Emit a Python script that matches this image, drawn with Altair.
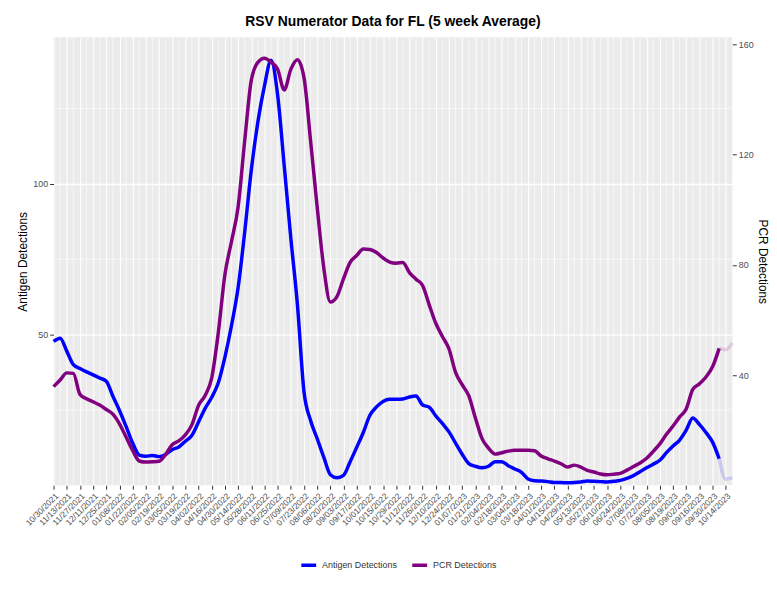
import altair as alt
import pandas as pd

# ---- data (weekly, 5-week average) ----
start_date = "2021-10-30"
series_names = ["Antigen Detections", "PCR Detections"]
series_colors = ["#0000FF", "#800080"]

antigen = [
    47.7, 48.8, 44.5, 40.0, 38.7, 37.6, 36.6, 35.6, 34.5, 29.5,
    24.8, 19.5, 14.0, 10.0, 9.6, 9.9, 9.5, 10.2, 11.8, 12.7,
    14.6, 16.6, 21.0, 25.5, 29.2, 34.0, 42.5, 53.0, 65.5, 84.0,
    104.5, 120.5, 132.5, 141.0, 129.5, 106.0, 82.0, 60.0, 31.0, 21.5,
    15.5, 9.3, 3.5, 2.5, 3.3, 7.8, 12.6, 17.5, 23.2, 26.0,
    27.8, 28.5, 28.5, 28.6, 29.3, 29.6, 26.6, 25.9, 23.0, 20.5,
    17.7, 14.0, 10.3, 7.2, 6.3, 5.8, 6.3, 7.8, 7.8, 6.5,
    5.4, 4.3, 2.1, 1.5, 1.4, 1.2, 0.9, 0.9, 0.8, 0.9,
    1.1, 1.4, 1.3, 1.2, 1.1, 1.3, 1.6, 2.3, 3.2, 4.5,
    5.8, 7.0, 8.3, 10.8, 13.0, 15.0, 18.3, 22.3, 20.2, 17.5,
    14.3, 8.8, 2.0, 2.5,
]

pcr = [
    35.8, 38.2, 40.8, 40.6, 33.0, 31.4, 30.3, 29.1, 27.5, 25.8,
    22.3, 17.5, 12.6, 8.8, 8.4, 8.5, 8.7, 11.2, 14.7, 16.1,
    18.3, 22.0, 29.0, 32.6, 39.0, 55.5, 76.5, 88.5, 101.0, 125.0,
    147.0, 153.5, 155.0, 153.6, 151.0, 143.5, 151.0, 154.5, 148.0, 125.0,
    101.0, 79.0, 66.5, 68.5, 75.0, 80.9, 83.4, 85.8, 85.6, 84.5,
    82.5, 81.0, 80.6, 80.9, 77.2, 74.8, 72.5, 65.5, 58.8, 54.0,
    49.5, 41.0, 36.5, 32.5, 24.5, 17.0, 13.5, 11.3, 11.8, 12.4,
    12.7, 12.7, 12.7, 12.5, 10.6, 9.6, 8.8, 7.8, 6.6, 7.3,
    6.6, 5.4, 4.8, 4.1, 3.8, 4.0, 4.3, 5.5, 6.8, 8.1,
    9.8, 12.3, 15.0, 18.5, 21.5, 24.8, 27.7, 34.8, 36.8, 39.3,
    43.0, 49.7, 49.2, 51.7,
]

left_ticks = [50, 100]
left_minor = [25, 75, 125]
right_ticks = [40, 80, 120, 160]
fade_start = 101  # last weeks are shown faded (incomplete)

n = len(antigen)
dates = pd.date_range(start_date, periods=n, freq="7D")
date_str = [d.strftime("%Y-%m-%d") for d in dates]
tick_dates = dates[:-1:2]
minor_dates = dates[1:-1:2]

df_all = pd.DataFrame({"date": date_str, "antigen": antigen, "pcr": pcr})
df_solid = df_all.iloc[: fade_start + 1]
df_fade = df_all.iloc[fade_start:]
df_vminor = pd.DataFrame({"date": [d.strftime("%Y-%m-%d") for d in minor_dates]})
df_hminor = pd.DataFrame({"v": left_minor})


def dt(d):
    return alt.DateTime(year=d.year, month=d.month, date=d.day, utc=True)


FONT = "Liberation Sans"

x_enc = alt.X(
    "date:T",
    title=None,
    scale=alt.Scale(type="utc", domain=[dt(dates[0]), dt(dates[-1])], nice=False),
    axis=alt.Axis(
        values=[dt(d) for d in tick_dates],
        format="%m/%d/%Y",
        labelAngle=-45,
        labelOverlap=False,
        labelFontSize=8.5,
        grid=True,
        gridColor="white",
        gridWidth=1.1,
        tickSize=4,
        labelPadding=2,
    ),
)

left_scale = alt.Scale(domain=[0, 148.6], nice=False, zero=False)
right_scale = alt.Scale(domain=[0, 162.6], nice=False, zero=False)

left_axis = alt.Axis(
    values=left_ticks,
    title="Antigen Detections",
    orient="left",
    grid=True,
    gridColor="white",
    gridWidth=1.3,
    tickSize=4,
    labelPadding=2,
    titlePadding=3,
)
right_axis = alt.Axis(
    values=right_ticks,
    title="PCR Detections",
    orient="right",
    grid=False,
    tickSize=4,
    labelPadding=2,
    titlePadding=2,
)

color_enc = alt.Color(
    "series:N",
    scale=alt.Scale(domain=series_names, range=series_colors),
    legend=alt.Legend(
        title=None,
        orient="none",
        direction="horizontal",
        legendX=248,
        legendY=523,
        symbolType="stroke",
        symbolStrokeWidth=3.5,
        symbolSize=225,
        labelFont=FONT,
        labelFontSize=9,
        labelColor="#333333",
        columnPadding=8,
        padding=0,
    ),
)


def line(df, field, name, opacity, scale, axis):
    return (
        alt.Chart(df)
        .transform_calculate(series=f"'{name}'")
        .mark_line(interpolate="monotone", strokeWidth=3.5, opacity=opacity)
        .encode(
            x=x_enc,
            y=alt.Y(f"{field}:Q", scale=scale, axis=axis),
            color=color_enc,
        )
    )


hgrid = alt.Chart(df_hminor).mark_rule(color="white", strokeWidth=0.6).encode(
    y=alt.Y("v:Q", scale=left_scale, axis=left_axis)
)
vgrid = alt.Chart(df_vminor).mark_rule(color="white", strokeWidth=0.6).encode(x=x_enc)

left_layer = alt.layer(
    hgrid,
    vgrid,
    line(df_solid, "antigen", series_names[0], 1.0, left_scale, left_axis),
    line(df_fade, "antigen", series_names[0], 0.15, left_scale, left_axis),
)
right_layer = alt.layer(
    line(df_solid, "pcr", series_names[1], 1.0, right_scale, right_axis),
    line(df_fade, "pcr", series_names[1], 0.15, right_scale, right_axis),
)

chart = (
    alt.layer(left_layer, right_layer)
    .resolve_scale(y="independent")
    .properties(
        width=685,
        height=452,
        autosize=alt.AutoSizeParams(type="none"),
        padding={"left": 46, "top": 27, "right": 37, "bottom": 94},
        title=alt.TitleParams(
            "RSV Numerator Data for FL (5 week Average)",
            font=FONT,
            fontSize=14,
            fontWeight="bold",
            color="black",
            anchor="middle",
            offset=8,
        ),
    )
    .configure(background="white")
    .configure_view(fill="#EBEBEB", strokeWidth=0)
    .configure_axis(
        labelFont=FONT,
        labelFontSize=9,
        labelColor="#4D4D4D",
        tickColor="#333333",
        domain=False,
        titleFont=FONT,
        titleFontSize=12,
        titleFontWeight="normal",
        titleColor="black",
    )
)

chart.save("out.html", embed_options={"renderer": "svg", "actions": False})
